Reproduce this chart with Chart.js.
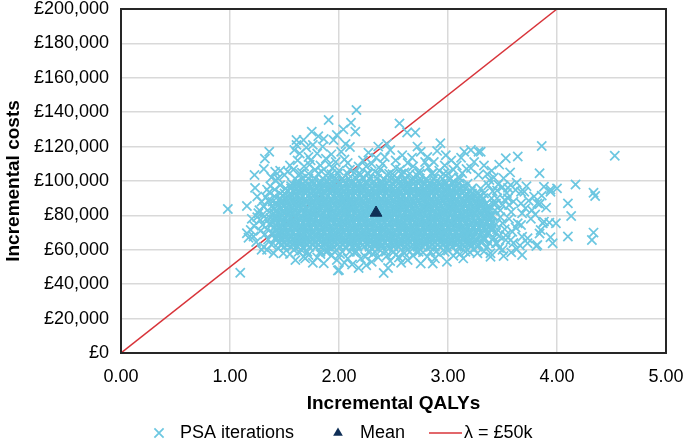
<!DOCTYPE html>
<html><head><meta charset="utf-8">
<script src="https://cdn.jsdelivr.net/npm/chart.js@4/dist/chart.umd.min.js"></script>
<style>html,body{margin:0;padding:0;background:#fff}</style>
</head><body>
<canvas id="c" width="685" height="441"></canvas>
<script>
// ---- data (costs in £ thousands, QALYs) ----
const xTicks = [0, 1, 2, 3, 4, 5];
const yTicks = [0, 20, 40, 60, 80, 100, 120, 140, 160, 180, 200];

const meanQaly = [2.34];
const meanCost = [81.5];

const lambdaQalys = [0, 4];
const lambdaCosts = [0, 200];

// dense core of the PSA cloud, read row by row (cost level -> QALY positions)
const coreRowCosts = [58.9, 61.7, 64.4, 67.2, 70.0, 72.9, 75.7, 78.5, 81.4, 84.2, 87.0, 89.9, 92.7, 95.6, 98.4, 101.3, 104.2];
const coreRowQalys = [
 [1.63,1.71,1.83,1.88,1.96,2.03,2.1,2.16,2.27,2.33,2.43,2.5,2.59,2.65,2.73,2.84,2.89,2.97,3.08,3.16],
 [1.5,1.56,1.62,1.67,1.73,1.79,1.84,1.9,1.95,2.01,2.06,2.12,2.17,2.23,2.28,2.33,2.39,2.45,2.5,2.55,2.61,2.66,2.72,2.77,2.83,2.88,2.93,2.99,3.04,3.1,3.15,3.21,3.27],
 [1.45,1.49,1.55,1.59,1.64,1.69,1.73,1.78,1.83,1.87,1.92,1.96,2.01,2.05,2.1,2.15,2.19,2.24,2.28,2.33,2.38,2.42,2.47,2.51,2.56,2.61,2.65,2.7,2.74,2.79,2.84,2.88,2.93,2.97,3.02,3.07,3.11,3.16,3.2,3.25,3.3],
 [1.42,1.47,1.51,1.56,1.61,1.65,1.7,1.75,1.8,1.84,1.89,1.94,1.98,2.03,2.08,2.12,2.17,2.21,2.26,2.31,2.35,2.4,2.45,2.49,2.54,2.59,2.63,2.68,2.72,2.77,2.82,2.86,2.91,2.95,3.0,3.05,3.09,3.14,3.18,3.23,3.28,3.33],
 [1.39,1.44,1.49,1.53,1.58,1.63,1.67,1.72,1.77,1.82,1.86,1.91,1.96,2.0,2.05,2.1,2.14,2.19,2.24,2.28,2.33,2.37,2.42,2.47,2.51,2.56,2.61,2.65,2.7,2.75,2.79,2.84,2.88,2.93,2.98,3.02,3.07,3.12,3.16,3.21,3.26,3.31,3.36],
 [1.41,1.46,1.51,1.55,1.6,1.65,1.69,1.74,1.79,1.84,1.88,1.93,1.98,2.02,2.07,2.12,2.16,2.21,2.26,2.3,2.35,2.4,2.44,2.49,2.54,2.58,2.63,2.68,2.72,2.77,2.81,2.86,2.91,2.95,3.0,3.05,3.09,3.14,3.19,3.23,3.28,3.33,3.38],
 [1.39,1.44,1.48,1.53,1.58,1.62,1.67,1.72,1.76,1.81,1.86,1.9,1.95,2.0,2.04,2.09,2.14,2.18,2.23,2.28,2.32,2.37,2.42,2.46,2.51,2.56,2.6,2.65,2.7,2.74,2.79,2.84,2.88,2.93,2.97,3.02,3.07,3.11,3.16,3.21,3.26,3.31,3.36],
 [1.37,1.42,1.46,1.51,1.56,1.6,1.65,1.7,1.74,1.79,1.84,1.88,1.93,1.97,2.02,2.07,2.11,2.16,2.21,2.25,2.3,2.35,2.39,2.44,2.49,2.53,2.58,2.63,2.67,2.72,2.77,2.81,2.86,2.9,2.95,3.0,3.04,3.09,3.14,3.18,3.23,3.28,3.33,3.38],
 [1.4,1.44,1.49,1.54,1.58,1.63,1.68,1.72,1.77,1.81,1.86,1.91,1.95,2.0,2.05,2.09,2.14,2.19,2.23,2.28,2.33,2.37,2.42,2.46,2.51,2.56,2.6,2.65,2.7,2.74,2.79,2.83,2.88,2.93,2.97,3.02,3.07,3.11,3.16,3.21,3.25,3.3,3.35],
 [1.41,1.46,1.51,1.56,1.61,1.65,1.7,1.75,1.79,1.84,1.89,1.93,1.98,2.03,2.07,2.12,2.16,2.21,2.26,2.3,2.35,2.4,2.44,2.49,2.53,2.58,2.63,2.67,2.72,2.77,2.81,2.86,2.9,2.95,3.0,3.04,3.09,3.13,3.18,3.23,3.28,3.32,3.37],
 [1.43,1.48,1.53,1.58,1.62,1.67,1.72,1.76,1.81,1.86,1.9,1.95,2.0,2.04,2.09,2.14,2.18,2.23,2.28,2.32,2.37,2.41,2.46,2.51,2.55,2.6,2.65,2.69,2.74,2.79,2.83,2.88,2.92,2.97,3.02,3.06,3.11,3.16,3.2,3.25,3.3,3.35],
 [1.46,1.51,1.55,1.6,1.65,1.69,1.74,1.79,1.83,1.88,1.93,1.97,2.02,2.06,2.11,2.16,2.2,2.25,2.3,2.34,2.39,2.44,2.48,2.53,2.57,2.62,2.67,2.71,2.76,2.81,2.85,2.9,2.94,2.99,3.04,3.08,3.13,3.18,3.22,3.27,3.32],
 [1.46,1.5,1.55,1.6,1.64,1.69,1.74,1.78,1.83,1.87,1.92,1.97,2.01,2.06,2.11,2.15,2.2,2.25,2.29,2.34,2.38,2.43,2.48,2.52,2.57,2.62,2.66,2.71,2.75,2.8,2.85,2.89,2.94,2.99,3.03,3.08,3.13,3.17,3.22,3.28,3.33],
 [1.51,1.56,1.61,1.65,1.7,1.75,1.8,1.84,1.89,1.94,1.98,2.03,2.08,2.12,2.17,2.22,2.26,2.31,2.36,2.4,2.45,2.5,2.54,2.59,2.64,2.68,2.73,2.78,2.82,2.87,2.92,2.96,3.01,3.06,3.11,3.16,3.22,3.3],
 [1.57,1.62,1.67,1.72,1.77,1.82,1.87,1.91,1.96,2.01,2.06,2.11,2.15,2.2,2.25,2.3,2.34,2.39,2.44,2.49,2.54,2.58,2.63,2.68,2.73,2.78,2.83,2.88,2.93,2.98,3.04,3.1,3.18],
 [1.6,1.66,1.72,1.78,1.85,1.91,1.97,2.03,2.09,2.16,2.22,2.28,2.35,2.41,2.48,2.54,2.6,2.67,2.74,2.8,2.87,2.95,3.02,3.11],
 [1.64,1.72,1.81,1.9,1.99,2.08,2.18,2.27,2.36,2.46,2.57,2.65,2.74,2.85,2.96]
];

// in-between rows of the solid core
const innerRowCosts = [63.0, 65.8, 68.6, 71.5, 74.3, 77.1, 80.0, 82.8, 85.6, 88.5, 91.3, 94.2, 97.0, 99.8];
const innerRowQalys = [
 [1.52,1.58,1.64,1.7,1.76,1.81,1.87,1.93,1.99,2.04,2.1,2.16,2.22,2.27,2.33,2.39,2.45,2.5,2.56,2.62,2.68,2.73,2.79,2.85,2.91,2.96,3.02,3.08,3.14,3.2,3.28],
 [1.47,1.53,1.59,1.65,1.7,1.76,1.82,1.88,1.93,1.99,2.05,2.11,2.16,2.22,2.28,2.34,2.39,2.45,2.51,2.57,2.62,2.68,2.74,2.8,2.85,2.91,2.97,3.03,3.08,3.14,3.2,3.26,3.33],
 [1.44,1.5,1.56,1.61,1.67,1.73,1.79,1.84,1.9,1.96,2.02,2.07,2.13,2.19,2.25,2.3,2.36,2.42,2.48,2.53,2.59,2.65,2.71,2.76,2.82,2.88,2.94,2.99,3.05,3.11,3.17,3.22,3.29,3.36],
 [1.43,1.49,1.54,1.6,1.66,1.72,1.77,1.83,1.89,1.95,2.0,2.06,2.12,2.18,2.23,2.29,2.35,2.41,2.46,2.52,2.58,2.64,2.69,2.75,2.81,2.87,2.92,2.98,3.04,3.1,3.15,3.21,3.27,3.34,3.4],
 [1.42,1.47,1.53,1.59,1.65,1.7,1.76,1.82,1.88,1.93,1.99,2.05,2.11,2.16,2.22,2.28,2.34,2.39,2.45,2.51,2.57,2.62,2.68,2.74,2.8,2.85,2.91,2.97,3.03,3.08,3.14,3.2,3.26,3.32,3.39],
 [1.41,1.47,1.52,1.58,1.64,1.7,1.75,1.81,1.87,1.93,1.98,2.04,2.1,2.16,2.21,2.27,2.33,2.39,2.44,2.5,2.56,2.62,2.67,2.73,2.79,2.85,2.9,2.96,3.02,3.08,3.13,3.19,3.25,3.31,3.38],
 [1.42,1.48,1.53,1.59,1.65,1.71,1.76,1.82,1.88,1.94,1.99,2.05,2.11,2.17,2.22,2.28,2.34,2.4,2.45,2.51,2.57,2.63,2.68,2.74,2.8,2.86,2.91,2.97,3.03,3.09,3.14,3.2,3.26,3.33,3.4],
 [1.43,1.49,1.55,1.6,1.66,1.72,1.78,1.83,1.89,1.95,2.01,2.06,2.12,2.18,2.24,2.29,2.35,2.41,2.47,2.52,2.58,2.64,2.7,2.75,2.81,2.87,2.93,2.98,3.04,3.1,3.16,3.21,3.27,3.34],
 [1.44,1.5,1.56,1.62,1.67,1.73,1.79,1.85,1.9,1.96,2.02,2.08,2.13,2.19,2.25,2.31,2.36,2.42,2.48,2.54,2.59,2.65,2.71,2.77,2.82,2.88,2.94,3.0,3.05,3.11,3.17,3.23,3.3,3.37],
 [1.47,1.53,1.58,1.64,1.7,1.76,1.81,1.87,1.93,1.99,2.04,2.1,2.16,2.22,2.27,2.33,2.39,2.45,2.5,2.56,2.62,2.68,2.73,2.79,2.85,2.91,2.96,3.02,3.08,3.14,3.19,3.25,3.31],
 [1.49,1.55,1.61,1.66,1.72,1.78,1.84,1.89,1.95,2.01,2.07,2.12,2.18,2.24,2.3,2.35,2.41,2.47,2.53,2.58,2.64,2.7,2.76,2.81,2.87,2.93,2.99,3.04,3.1,3.16,3.22,3.29],
 [1.53,1.59,1.64,1.7,1.76,1.82,1.87,1.93,1.99,2.05,2.1,2.16,2.22,2.28,2.33,2.39,2.45,2.51,2.56,2.62,2.68,2.74,2.79,2.85,2.91,2.97,3.02,3.08,3.14,3.21],
 [1.56,1.62,1.68,1.74,1.8,1.86,1.92,1.98,2.04,2.1,2.16,2.22,2.28,2.34,2.4,2.46,2.52,2.58,2.64,2.7,2.76,2.82,2.88,2.94,3.0,3.07,3.14],
 [1.62,1.69,1.76,1.83,1.9,1.97,2.04,2.11,2.18,2.25,2.32,2.39,2.46,2.53,2.6,2.67,2.74,2.81,2.89,2.97,3.05]
];

// semi-dense band around the edge of the core: [QALYs, cost £k]
const edgePoints = [
 [1.58,106.5],[1.66,104.8],[1.73,109.5],[1.84,105.5],[1.91,109.5],[2.0,106],[2.08,110.5],[2.14,104.8],[2.25,108.5],
 [2.33,105.5],[2.4,110],[2.52,107.5],[2.6,105],[2.68,108.5],[2.79,111],[2.86,104.5],[2.97,109],[3.05,106.5],
 [3.13,104.5],[3.21,107.5],[3.28,103.5],[1.62,112],[1.93,104],[2.2,103.8],[2.44,103.5],[2.71,103.7],[3.1,102],
 [1.55,57.5],[1.66,59.5],[1.83,57.5],[2.01,57.5],[2.14,58.5],[2.2,55],[2.31,57.5],[2.44,56.5],[2.6,58],[2.77,58.5],
 [2.88,55],[3.0,59.5],[3.11,57.5],[3.24,60.5],[3.33,59],[1.69,55],[2.55,55.5],
 [1.32,69],[1.36,75],[1.38,85],[1.41,91],[1.34,95],[1.42,66],[1.47,62.5],[1.3,80.5],[1.35,88.5],[1.44,101.5],
 [1.25,91],[1.2,78],[1.23,96],
 [3.38,64],[3.42,67],[3.4,76],[3.45,72],[3.41,80],[3.44,87],[3.4,90],[3.45,94.5],[3.38,100.5],[3.48,83],[3.52,89],
 [3.5,96.5],[3.47,61],[3.36,83.5],[3.53,68.5],[3.56,86]
];

// scattered iterations around the core: [QALYs, cost £k]
const fringePoints = [
 [0.98,83.7],[1.155,85.5],[1.094,46.7],[1.225,103.5],[1.31,107],[1.32,113],[1.36,117],[1.46,106],[1.415,105.4],
 [1.61,123.8],[1.61,121],[1.55,109],[1.155,69.6],[1.17,67],[1.25,79],[1.28,71],[1.31,61.6],[1.34,60],[1.4,58],
 [1.49,58],[1.6,54],[1.19,71.5],[1.216,67.7],[1.29,60],[1.28,77.3],[1.26,81.2],[1.31,85],[1.22,74],[1.24,64.5],
 [1.33,90.5],[1.36,93.5],[1.29,88],[1.37,97],[1.42,100.5],[1.38,102],[1.27,83],[1.35,66],[1.38,63],[1.44,61],
 [1.3,74.5],[1.33,78],[1.36,82],[1.34,72],[1.39,88],[1.41,95],[1.46,97.5],[1.5,103.5],[1.53,105.5],
 [2.16,141.3],[1.905,135.5],[2.11,133.9],[2.15,128.7],[2.555,133.5],[2.625,128.2],[2.7,128.2],[2.93,121.9],
 [1.75,128.7],[1.675,123.8],[1.98,126.7],[1.95,123.8],[2.1,119.8],[2.36,120],[2.72,120],[2.75,117],[3.21,118],
 [3.28,117],[1.74,112],[2.22,112],[2.87,111],[1.59,118],[1.64,116],[1.7,119.5],[1.72,114],[1.8,116],[1.85,120],
 [1.88,113],[1.83,109],[1.93,115.5],[2.02,117],[2.05,112.5],[2.27,116.5],[2.3,110],[2.42,114],[2.47,118],
 [2.52,112],[2.58,115],[2.63,110.5],[2.67,113.5],[2.81,114],[2.82,108],[2.98,115],[3.03,112],[3.08,109],
 [3.12,113.5],[3.17,107],[3.24,111],[3.33,109],[3.15,117],[2.44,121.5],[2.06,121.5],[1.68,108.5],[1.78,106.5],
 [1.94,107.5],[2.1,106.5],[2.18,108.5],[2.38,107],[2.56,106.5],[2.74,106],[2.92,106],[3.0,104.5],[3.36,104],
 [2.26,104.5],[2.49,104],[1.97,111],[2.34,113.5],[2.9,117.5],[1.86,124.5],[1.76,121],[2.04,130],[1.81,126],
 [2.41,46.5],[2.45,49.4],[2.18,49.4],[1.99,48],[2.3,53],[2.63,54],[2.75,52],[2.86,52],[2.99,53],[3.27,58],
 [3.39,56],[1.86,52.1],[2.0,48.3],[1.98,54],[1.675,56],[1.585,60],[1.72,57],[1.8,55.5],[1.93,56.5],[2.08,55],
 [2.12,51.5],[2.24,56],[2.36,55.5],[2.52,57],[2.57,52.5],[2.68,56.5],[2.81,56],[2.92,57.5],[3.05,56.5],
 [3.14,55],[3.2,58.5],[2.47,53.5],[2.25,51],[2.05,52.5],[1.76,52.5],[2.71,59],[2.38,59.5],[1.9,59.5],
 [3.51,101.6],[3.575,97.7],[3.62,94.8],[3.7,93.8],[3.71,84.1],[3.67,74.4],[3.68,67.6],[3.575,65.7],[3.44,63.8],
 [3.36,61.8],[3.44,69.8],[3.53,113.2],[3.64,114.2],[3.3,117],[3.84,104.5],[3.68,57],[3.51,56.4],[3.39,58],
 [3.81,62.2],[3.63,60.3],[3.73,63.8],[3.73,66.7],[3.64,75.4],[3.59,70.5],[3.53,65.7],[3.45,63.8],[3.33,65.7],
 [3.68,81.2],[3.67,87],[3.67,93.8],[3.5,60],[3.42,102],[3.46,98],[3.41,94],[3.45,90],[3.5,86],[3.43,83],
 [3.48,79],[3.44,75],[3.52,72],[3.47,68],[3.55,90],[3.58,82],[3.56,78],[3.6,88],[3.62,73],[3.55,96],[3.63,99],
 [3.4,106],[3.47,109.5],[3.57,105],[3.74,88.5],[3.76,78],[3.72,97],[3.77,83],[3.79,91],[3.66,62.5],[3.58,58.5],
 [3.4,72.5],[3.42,86.5],[3.39,79.5],[3.37,97.5],[3.54,93],[3.6,64],[3.5,75.5],
 [3.86,120.3],[4.53,114.7],[3.88,96.7],[3.94,95.1],[4.0,95.7],[4.17,98],[4.335,93.2],[4.35,91.3],[4.1,87],
 [3.84,86.6],[4.13,79.7],[3.87,75.4],[3.93,75.8],[3.99,75.4],[3.85,71.5],[3.84,69.5],[3.94,67.3],[3.96,63.8],
 [4.1,67.7],[4.335,70],[4.32,65.7],[3.82,62.8],[3.88,76.4],[3.82,87],[3.94,93.8],[3.8,80.5],[3.9,84.5],[3.86,91.5]
];

// ---- build datasets ----
const psaData = [];
coreRowCosts.forEach((c, i) => coreRowQalys[i].forEach(q => psaData.push({x: q, y: c})));
innerRowCosts.forEach((c, i) => innerRowQalys[i].forEach(q => psaData.push({x: q, y: c})));
edgePoints.forEach(p => psaData.push({x: p[0], y: p[1]}));
fringePoints.forEach(p => psaData.push({x: p[0], y: p[1]}));
const meanData = meanQaly.map((q, i) => ({x: q, y: meanCost[i]}));
const lambdaData = lambdaQalys.map((q, i) => ({x: q, y: lambdaCosts[i]}));

const FONT = '"Liberation Sans", Arial, Helvetica, sans-serif';
const PSA_COLOR = '#6cc7e1';
const MEAN_COLOR = '#0f2f57';
const LINE_COLOR = '#d8343a';
Chart.defaults.font.family = FONT;
Chart.defaults.color = '#000';

const frameAndLegend = {
  id: 'frameAndLegend',
  afterDraw(chart) {
    const {ctx, chartArea: a} = chart;
    ctx.save();
    ctx.strokeStyle = '#262626';
    ctx.lineWidth = 2;
    ctx.strokeRect(a.left, a.top, a.right - a.left, a.bottom - a.top);
    const ly = 433;
    ctx.font = '18px ' + FONT;
    ctx.textBaseline = 'middle';
    ctx.textAlign = 'left';
    ctx.fillStyle = '#000';
    ctx.strokeStyle = PSA_COLOR; ctx.lineWidth = 1.75;
    const h = 4.6, cx = 159;
    ctx.beginPath();
    ctx.moveTo(cx - h, ly - h); ctx.lineTo(cx + h, ly + h);
    ctx.moveTo(cx - h, ly + h); ctx.lineTo(cx + h, ly - h);
    ctx.stroke();
    ctx.fillText('PSA iterations', 180, ly);
    ctx.fillStyle = MEAN_COLOR;
    const tx = 338, r = 5.6;
    ctx.beginPath();
    ctx.moveTo(tx, ly - r);
    ctx.lineTo(tx + r * 0.866, ly + r * 0.5);
    ctx.lineTo(tx - r * 0.866, ly + r * 0.5);
    ctx.closePath(); ctx.fill();
    ctx.fillStyle = '#000';
    ctx.fillText('Mean', 360, ly);
    ctx.strokeStyle = LINE_COLOR; ctx.lineWidth = 1.5;
    ctx.beginPath(); ctx.moveTo(429, ly); ctx.lineTo(462, ly); ctx.stroke();
    ctx.fillText('λ = £50k', 464, ly);
    ctx.restore();
  }
};

new Chart(document.getElementById('c'), {
  type: 'scatter',
  data: {
    datasets: [
      {label: 'Mean', data: meanData, order: 0, pointStyle: 'triangle', pointRadius: 6.8,
       backgroundColor: MEAN_COLOR, borderColor: MEAN_COLOR, borderWidth: 1},
      {label: 'PSA iterations', data: psaData, order: 1, pointStyle: 'crossRot', pointRadius: 6.5,
       borderColor: PSA_COLOR, backgroundColor: PSA_COLOR, borderWidth: 1.75},
      {label: 'λ = £50k', type: 'line', data: lambdaData, order: 2, showLine: true, pointRadius: 0,
       borderColor: LINE_COLOR, borderWidth: 1.5, fill: false}
    ]
  },
  options: {
    responsive: false,
    animation: false,
    events: [],
    layout: {padding: {left: 0, right: 19, top: 9, bottom: 25.8}},
    plugins: {legend: {display: false}, tooltip: {enabled: false}},
    scales: {
      x: {
        type: 'linear', min: 0, max: 5,
        afterBuildTicks: s => { s.ticks = xTicks.map(v => ({value: v})); },
        afterFit: s => { s.height = 62.2; s.paddingLeft = 0; s.paddingRight = 0; },
        ticks: {callback: v => Number(v).toFixed(2), padding: 13, font: {size: 18}, color: '#000', maxRotation: 0},
        grid: {color: '#d9d9d9', lineWidth: 1.5, drawTicks: false},
        border: {display: false},
        title: {display: true, text: 'Incremental QALYs', font: {size: 19, weight: 'bold'}, color: '#000', padding: {top: 0, bottom: 0}}
      },
      y: {
        type: 'linear', min: 0, max: 200,
        afterBuildTicks: s => { s.ticks = yTicks.map(v => ({value: v})); },
        afterFit: s => { s.width = 121; s.paddingTop = 0; s.paddingBottom = 0; },
        ticks: {callback: v => '£' + (v * 1000).toLocaleString('en-GB'), padding: 12, font: {size: 18}, color: '#000'},
        grid: {color: '#d9d9d9', lineWidth: 1.5, drawTicks: false},
        border: {display: false},
        title: {display: true, text: 'Incremental costs', font: {size: 19, weight: 'bold'}, color: '#000', padding: {top: 2.6, bottom: 0}}
      }
    }
  },
  plugins: [frameAndLegend]
});
</script>
</body></html>
